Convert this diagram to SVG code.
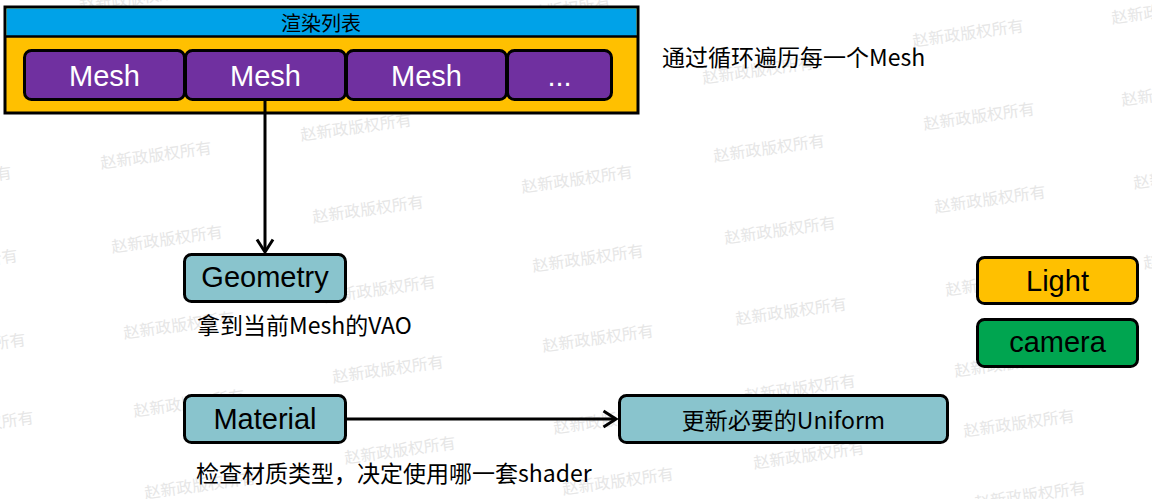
<svg xmlns="http://www.w3.org/2000/svg" width="1152" height="499" viewBox="0 0 1152 499">
  <defs>
    <style>
      .wm { font-family: "Noto Sans CJK SC", sans-serif; font-size: 16px; fill: #e6e6e6; text-anchor: middle; }
      .box { stroke: #000; stroke-width: 3; }
      .teal { fill: #89C4CD; }
      .lbl { font-family: "Liberation Sans", Arial, sans-serif; font-size: 29px; text-anchor: middle; fill: #000; }
      .mesh { fill: #7030A0; }
      .wl { fill: #fff; }
      .note { font-family: "Noto Sans CJK SC", sans-serif; font-size: 23px; fill: #000; }
      .conn { stroke: #000; stroke-width: 3; fill: none; }
    </style>
    <marker id="arr" markerUnits="userSpaceOnUse" markerWidth="18" markerHeight="20" viewBox="0 0 18 20" refX="13" refY="10" orient="auto">
      <path d="M1.5,2 L14,10 L1.5,18" fill="none" stroke="#000" stroke-width="3" stroke-linejoin="miter"/>
    </marker>
  </defs>
  <rect x="0" y="0" width="1152" height="499" fill="#fff"/>

  <g id="watermarks">
    <text class="wm" x="-44" y="186" transform="rotate(-8 -44 180)">赵新政版权所有</text>
    <text class="wm" x="-38" y="269" transform="rotate(-8 -38 263)">赵新政版权所有</text>
    <text class="wm" x="-30" y="353" transform="rotate(-8 -30 347)">赵新政版权所有</text>
    <text class="wm" x="-22" y="431" transform="rotate(-8 -22 425)">赵新政版权所有</text>
    <text class="wm" x="135" y="4" transform="rotate(-8 135 -2)">赵新政版权所有</text>
    <text class="wm" x="156" y="161" transform="rotate(-8 156 155)">赵新政版权所有</text>
    <text class="wm" x="167" y="245" transform="rotate(-8 167 239)">赵新政版权所有</text>
    <text class="wm" x="179" y="331" transform="rotate(-8 179 325)">赵新政版权所有</text>
    <text class="wm" x="189" y="409" transform="rotate(-8 189 403)">赵新政版权所有</text>
    <text class="wm" x="200" y="491" transform="rotate(-8 200 485)">赵新政版权所有</text>
    <text class="wm" x="356" y="133" transform="rotate(-8 356 127)">赵新政版权所有</text>
    <text class="wm" x="368" y="215" transform="rotate(-8 368 209)">赵新政版权所有</text>
    <text class="wm" x="380" y="295" transform="rotate(-8 380 289)">赵新政版权所有</text>
    <text class="wm" x="388" y="375" transform="rotate(-8 388 369)">赵新政版权所有</text>
    <text class="wm" x="400" y="456" transform="rotate(-8 400 450)">赵新政版权所有</text>
    <text class="wm" x="555" y="16" transform="rotate(-8 555 10)">赵新政版权所有</text>
    <text class="wm" x="577" y="185" transform="rotate(-8 577 179)">赵新政版权所有</text>
    <text class="wm" x="588" y="264" transform="rotate(-8 588 258)">赵新政版权所有</text>
    <text class="wm" x="598" y="344" transform="rotate(-8 598 338)">赵新政版权所有</text>
    <text class="wm" x="609" y="426" transform="rotate(-8 609 420)">赵新政版权所有</text>
    <text class="wm" x="618" y="487" transform="rotate(-8 618 481)">赵新政版权所有</text>
    <text class="wm" x="758" y="76" transform="rotate(-8 758 70)">赵新政版权所有</text>
    <text class="wm" x="769" y="154" transform="rotate(-8 769 148)">赵新政版权所有</text>
    <text class="wm" x="780" y="236" transform="rotate(-8 780 230)">赵新政版权所有</text>
    <text class="wm" x="791" y="317" transform="rotate(-8 791 311)">赵新政版权所有</text>
    <text class="wm" x="800" y="394" transform="rotate(-8 800 388)">赵新政版权所有</text>
    <text class="wm" x="809" y="461" transform="rotate(-8 809 455)">赵新政版权所有</text>
    <text class="wm" x="968" y="39" transform="rotate(-8 968 33)">赵新政版权所有</text>
    <text class="wm" x="979" y="122" transform="rotate(-8 979 116)">赵新政版权所有</text>
    <text class="wm" x="990" y="205" transform="rotate(-8 990 199)">赵新政版权所有</text>
    <text class="wm" x="1001" y="288" transform="rotate(-8 1001 282)">赵新政版权所有</text>
    <text class="wm" x="1010" y="369" transform="rotate(-8 1010 363)">赵新政版权所有</text>
    <text class="wm" x="1019" y="429" transform="rotate(-8 1019 423)">赵新政版权所有</text>
    <text class="wm" x="1030" y="501" transform="rotate(-8 1030 495)">赵新政版权所有</text>
    <text class="wm" x="1167" y="16" transform="rotate(-8 1167 10)">赵新政版权所有</text>
    <text class="wm" x="1177" y="98" transform="rotate(-8 1177 92)">赵新政版权所有</text>
    <text class="wm" x="1189" y="181" transform="rotate(-8 1189 175)">赵新政版权所有</text>
    <text class="wm" x="1199" y="261" transform="rotate(-8 1199 255)">赵新政版权所有</text>
  </g>

  <g id="render-list">
    <rect x="5" y="7" width="633" height="106" fill="#FFC000" class="box"/>
    <rect x="6.5" y="8.5" width="630" height="28" fill="#00A2E8"/>
    <line x1="5" y1="36.5" x2="638" y2="36.5" stroke="#000" stroke-width="2.5"/>
    <text x="321" y="31" font-family="'Noto Sans CJK SC', sans-serif" font-size="20" text-anchor="middle" fill="#000">渲染列表</text>
  </g>

  <g id="mesh1">
    <rect x="24.5" y="50.5" width="160" height="49" rx="7" class="box mesh"/>
    <text x="104.5" y="86" class="lbl wl">Mesh</text>
  </g>
  <g id="mesh2">
    <rect x="185.5" y="50.5" width="160" height="49" rx="7" class="box mesh"/>
    <text x="265.5" y="86" class="lbl wl">Mesh</text>
  </g>
  <g id="mesh3">
    <rect x="346.5" y="50.5" width="160" height="49" rx="7" class="box mesh"/>
    <text x="426.5" y="86" class="lbl wl">Mesh</text>
  </g>
  <g id="mesh-more">
    <rect x="507.5" y="50.5" width="104" height="49" rx="7" class="box mesh"/>
    <text x="559.5" y="86" class="lbl wl">...</text>
  </g>

  <g id="note-loop">
    <text x="662" y="66" class="note">通过循环遍历每一个Mesh</text>
  </g>

  <g id="geometry">
    <rect x="184.5" y="254.5" width="161" height="47" rx="7" class="box teal"/>
    <text x="265" y="287" class="lbl">Geometry</text>
    <text x="197" y="334" class="note">拿到当前Mesh的VAO</text>
  </g>

  <g id="material">
    <rect x="184.5" y="395.5" width="161" height="47" rx="7" class="box teal"/>
    <text x="265" y="429" class="lbl">Material</text>
    <text x="196" y="482" class="note">检查材质类型，决定使用哪一套shader</text>
  </g>

  <g id="uniform">
    <rect x="619.5" y="395.5" width="328" height="47" rx="7" class="box teal"/>
    <text x="783.5" y="429" class="note" text-anchor="middle">更新必要的Uniform</text>
  </g>

  <g id="light">
    <rect x="977.5" y="257.5" width="160" height="46" rx="7" class="box" fill="#FFC000"/>
    <text x="1057.5" y="291" class="lbl">Light</text>
  </g>

  <g id="camera">
    <rect x="977.5" y="319.5" width="160" height="47" rx="7" class="box" fill="#00A550"/>
    <text x="1057.5" y="352" class="lbl">camera</text>
  </g>

  <g id="connectors">
    <line x1="265" y1="101" x2="265" y2="251" class="conn" marker-end="url(#arr)"/>
    <line x1="346" y1="419" x2="615" y2="419" class="conn" marker-end="url(#arr)"/>
  </g>
</svg>
